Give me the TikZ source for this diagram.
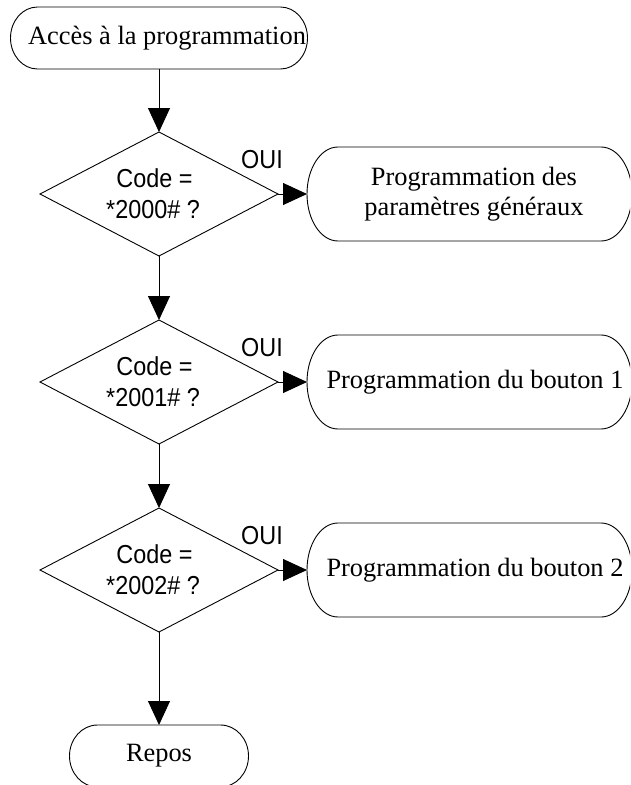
\documentclass[tikz,border=0pt]{standalone}
\usepackage{fontspec}
\setmainfont{Liberation Serif}
\newfontfamily\arialf[FakeStretch=0.9]{Liberation Sans}
\usetikzlibrary{shapes.geometric,arrows.meta}
\newcommand\termoutline[3]{%
  \draw[line] ([xshift=#2]#1.north west) -- ([xshift=-#2]#1.north east)
    arc[start angle=90,end angle=-90,x radius=#2,y radius=#3]
    -- ([xshift=#2]#1.south west)
    arc[start angle=270,end angle=90,x radius=#2,y radius=#3] -- cycle;}
\begin{document}
\begin{tikzpicture}[x=1pt,y=-1pt,
  line/.style={draw=black,line width=0.9pt},
  arr/.style={line,-{Triangle[length=24pt,width=22pt]}},
  term/.style={rectangle,draw=none,inner sep=0pt,outer sep=0pt,
    font=\fontsize{26.4}{30}\selectfont,align=center},
  decision/.style={diamond,shape aspect=1.92,draw=black,line width=0.9pt,
    inner sep=0pt,outer sep=0pt,
    minimum width=238pt,minimum height=124pt,
    font=\arialf\fontsize{26}{31}\selectfont,align=center},
  oui/.style={font=\arialf\fontsize{26}{30}\selectfont,inner sep=0pt}]
\useasboundingbox (0,0) rectangle (630,785);
\clip (0,0) rectangle (630,785);

\node[term,minimum width=297pt,minimum height=62pt] (start) at (159,38)
  {\hspace*{16pt}Accès à la programmation};

\node[decision] (d1) at (159,194) {Code =\hspace*{9pt}\\{}*2000\#~?\hspace*{12pt}};
\node[decision] (d2) at (159,382) {Code =\hspace*{9pt}\\{}*2001\#~?\hspace*{12pt}};
\node[decision] (d3) at (159,570) {Code =\hspace*{9pt}\\{}*2002\#~?\hspace*{12pt}};

\node[term,minimum width=325pt,minimum height=94pt] (p1) at (469.5,194)
  {\hspace*{9pt}Programmation des\\\hspace*{9pt}paramètres généraux};
\node[term,minimum width=325pt,minimum height=94pt] (p2) at (469.5,382)
  {\hspace*{11pt}Programmation du bouton 1};
\node[term,minimum width=325pt,minimum height=94pt] (p3) at (469.5,570)
  {\hspace*{11pt}Programmation du bouton 2};

\node[term,minimum width=179pt,minimum height=62pt] (repos) at (159,756) {Repos};

\node[oui] (o1) at ([xshift=103pt,yshift=34pt]d1.center) {OUI};
\node[oui] (o2) at ([xshift=103pt,yshift=34pt]d2.center) {OUI};
\node[oui] (o3) at ([xshift=103pt,yshift=34pt]d3.center) {OUI};

\termoutline{start}{27pt}{31pt}
\termoutline{p1}{31pt}{47pt}
\termoutline{p2}{31pt}{47pt}
\termoutline{p3}{31pt}{47pt}
\termoutline{repos}{28pt}{31pt}

\draw[arr] (start.south) -- (d1.north);
\draw[arr] (d1.south) -- (d2.north);
\draw[arr] (d2.south) -- (d3.north);
\draw[arr] (d3.south) -- (repos.north);
\draw[arr] (d1.east) -- (p1.west);
\draw[arr] (d2.east) -- (p2.west);
\draw[arr] (d3.east) -- (p3.west);
\end{tikzpicture}
\end{document}
